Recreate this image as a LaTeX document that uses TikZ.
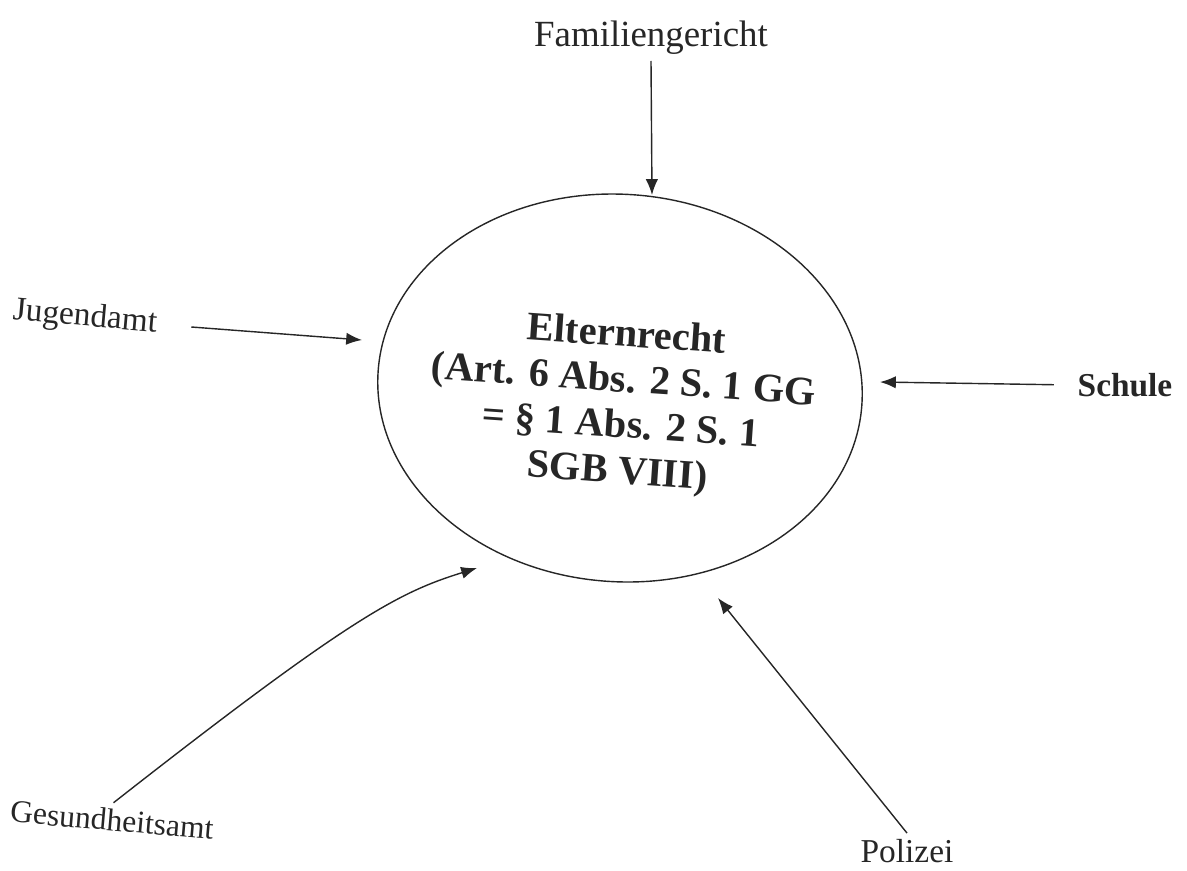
\documentclass[tikz,border=0pt]{standalone}
\usepackage{fontspec}
\setmainfont{Liberation Serif}
\usetikzlibrary{arrows.meta,shapes.geometric}

\begin{document}
\begin{tikzpicture}[x=0.02cm,y=-0.02cm,
    lbl/.style={font=\fontsize{19}{21}\selectfont, text=black!85},
    arr/.style={-{Latex[length=9pt,width=7pt]}, line width=0.8pt, black!85}]
            \useasboundingbox (0,0) rectangle (1187,870);

            \node[draw, ellipse, line width=0.8pt, black!85, rotate=-4,
                minimum width=9.7cm, minimum height=7.75cm, inner sep=0pt] (recht) at (620,388) {};
            \node[align=center, rotate=-4, text=black!85,
                font=\fontsize{23}{26}\selectfont\bfseries] (txt) at (622,405)
                {Elternrecht\\(Art. 6 Abs. 2 S. 1 GG\\= § 1 Abs. 2 S. 1\\SGB VIII)};

            \node[lbl, font=\fontsize{21}{23}\selectfont] (fam) at (651,38) {Familiengericht};
            \node[lbl, rotate=-5] (jug) at (85,318) {Jugendamt};
            \node[lbl, font=\fontsize{19}{21}\selectfont\bfseries] (sch) at (1125,385) {Schule};
            \node[lbl, rotate=-5, font=\fontsize{18}{20}\selectfont] (ges) at (112,820) {Gesundheitsamt};
            \node[lbl] (pol) at (907,851) {Polizei};

            \coordinate (famEnd) at (652,195);
            \coordinate (jugEnd) at (362,340);
            \coordinate (schEnd) at (880,382);
            \coordinate (gesEnd) at (477,568);
            \coordinate (polEnd) at (718,598);

            \draw[arr] (fam.south) to (famEnd);
            \draw[arr, shorten <=16pt] (jug.east) to (jugEnd);
            \draw[arr, shorten <=10pt] (sch.west) to (schEnd);
            \draw[arr] (ges.north) .. controls (353,615) and (400,592) .. (gesEnd);
            \draw[arr] (pol.north) to (polEnd);
        \end{tikzpicture}
\end{document}
